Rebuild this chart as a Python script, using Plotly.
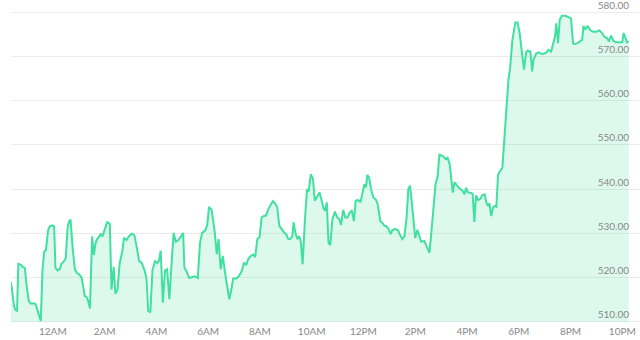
import plotly.graph_objects as go
import pandas as pd

# minutes relative to 12AM of the chart day (negative = previous evening)
minutes = [
    -97, -90, -87, -83, -80, -74, -70, -65, -61, -56, -51, -46, -40, -35, -32, -28,
    -24, -20, -16, -11, -7, -1, 3, 6, 11, 16, 20, 26, 30, 34, 37, 41, 46, 51, 56, 61,
    67, 70, 74, 78, 82, 86, 91, 95, 99, 103, 107, 111, 115, 121, 126, 132, 136, 141,
    145, 150, 155, 161, 165, 171, 176, 183, 189, 195, 200, 206, 212, 217, 221, 226,
    231, 237, 242, 246, 250, 255, 260, 265, 270, 275, 280, 285, 291, 297, 302, 305,
    310, 316, 323, 329, 336, 341, 346, 353, 358, 362, 368, 375, 380, 384, 389, 394,
    399, 404, 409, 414, 418, 425, 431, 438, 443, 448, 453, 459, 465, 469, 474, 479,
    484, 490, 494, 500, 505, 510, 515, 520, 525, 531, 536, 541, 545, 550, 555, 558,
    562, 567, 571, 575, 579, 584, 589, 593, 598, 603, 607, 613, 618, 623, 628, 631,
    635, 639, 643, 648, 654, 659, 664, 668, 673, 678, 683, 688, 693, 698, 702, 708,
    713, 718, 722, 726, 729, 733, 738, 743, 749, 753, 759, 764, 769, 773, 778, 783,
    787, 793, 800, 805, 810, 815, 820, 824, 828, 832, 836, 840, 845, 849, 854, 861,
    865, 870, 873, 878, 882, 887, 892, 896, 901, 906, 910, 915, 920, 924, 927, 931,
    937, 941, 946, 951, 954, 958, 962, 968, 973, 977, 981, 986, 991, 995, 1001, 1005,
    1009, 1012, 1016, 1020, 1024, 1028, 1032, 1037, 1042, 1046, 1051, 1056, 1060, 1065,
    1072, 1077, 1082, 1087, 1092, 1097, 1100, 1107, 1111, 1114, 1120, 1126, 1132, 1138,
    1144, 1149, 1155, 1159, 1164, 1167, 1171, 1175, 1180, 1188, 1196, 1201, 1206, 1211,
    1219, 1227, 1230, 1234, 1240, 1246, 1252, 1260, 1267, 1273, 1278, 1285, 1289, 1294,
    1299, 1304, 1312, 1320, 1323, 1327, 1331, 1335,
]

prices = [
    519.0, 513.6, 512.7, 512.5, 523.1, 522.9, 522.4, 522.2, 518.4, 514.7, 514.1, 514.2,
    514.0, 512.5, 511.4, 510.2, 521.8, 525.9, 526.2, 530.7, 531.6, 531.8, 531.6, 522.2,
    521.6, 521.9, 523.1, 523.7, 524.4, 531.1, 532.6, 533.1, 526.6, 521.9, 521.0, 520.7,
    519.9, 518.1, 515.8, 515.7, 514.7, 513.0, 529.3, 525.1, 527.8, 528.7, 529.4, 529.8,
    529.3, 531.0, 532.5, 532.2, 517.3, 522.4, 516.3, 517.3, 523.3, 525.9, 529.0, 528.5,
    529.3, 529.9, 529.6, 526.6, 523.7, 523.3, 521.8, 519.9, 512.5, 512.1, 521.8, 523.7,
    523.3, 523.8, 526.1, 514.3, 521.6, 521.9, 515.1, 522.9, 530.1, 528.1, 528.5, 529.3,
    530.1, 522.2, 521.4, 519.9, 520.1, 520.3, 519.9, 527.8, 530.1, 530.6, 531.9, 536.0,
    535.3, 530.5, 525.3, 528.7, 521.9, 524.9, 521.2, 518.1, 515.1, 517.4, 519.8, 519.8,
    520.3, 521.5, 523.4, 522.8, 524.2, 524.9, 525.2, 524.6, 528.7, 529.1, 533.6, 534.0,
    534.0, 535.6, 536.6, 537.3, 536.8, 535.9, 531.7, 530.7, 530.2, 529.8, 528.8, 528.7,
    529.3, 532.5, 530.2, 528.7, 529.4, 527.9, 523.0, 532.5, 539.8, 539.6, 543.4, 542.3,
    537.4, 538.3, 539.3, 537.4, 535.5, 535.1, 537.0, 527.9, 527.3, 533.2, 534.9, 533.6,
    533.2, 531.9, 535.3, 533.6, 533.6, 534.7, 535.1, 532.8, 537.4, 537.5, 537.0, 539.2,
    541.1, 540.4, 543.2, 542.6, 539.8, 538.1, 537.6, 536.6, 532.8, 532.3, 531.7, 531.6,
    531.0, 529.8, 530.7, 531.0, 530.7, 529.6, 528.7, 529.3, 533.6, 540.0, 540.8, 537.0,
    533.2, 528.9, 530.8, 529.8, 528.1, 528.3, 527.5, 526.5, 525.6, 530.9, 536.2, 541.1,
    542.9, 547.8, 547.6, 547.3, 546.8, 547.1, 545.6, 542.2, 539.2, 541.6, 540.8, 540.3,
    539.9, 539.5, 538.8, 540.3, 539.3, 539.2, 539.0, 532.6, 538.6, 537.5, 537.8, 538.6,
    538.8, 536.9, 536.2, 536.8, 533.9, 535.8, 536.2, 536.0, 543.3, 544.1, 544.8, 550.5,
    557.2, 564.7, 567.4, 573.5, 577.7, 577.7, 575.3, 571.5, 567.0, 570.9, 571.3, 571.1,
    566.6, 569.2, 570.6, 570.9, 570.6, 570.6, 570.9, 571.5, 571.1, 572.6, 574.5, 577.5,
    573.0, 578.3, 579.2, 579.2, 578.9, 578.6, 572.9, 572.8, 573.2, 573.8, 576.9, 576.2,
    576.8, 575.9, 575.6, 575.6, 575.9, 575.3, 574.5, 574.1, 573.4, 574.7, 573.6, 573.2,
    573.2, 573.2, 575.3, 574.1, 573.2, 573.4,
]

tick_minutes = [0, 120, 240, 360, 480, 600, 720, 840, 960, 1080, 1200, 1320]
tick_labels = ["12AM", "2AM", "4AM", "6AM", "8AM", "10AM",
               "12PM", "2PM", "4PM", "6PM", "8PM", "10PM"]
y_ticks = [510, 520, 530, 540, 550, 560, 570, 580]
baseline_value = 510

base = pd.Timestamp("2024-01-02 00:00")
times = [base + pd.Timedelta(minutes=m) for m in minutes]
tick_times = [base + pd.Timedelta(minutes=m) for m in tick_minutes]

fig = go.Figure()
# invisible baseline so the area fill stops at the lowest grid line
fig.add_trace(go.Scatter(
    x=times, y=[baseline_value] * len(times), mode="lines",
    line=dict(width=0, color="rgba(0,0,0,0)"), hoverinfo="skip",
))
fig.add_trace(go.Scatter(
    x=times, y=prices, mode="lines",
    line=dict(color="#40e0a0", width=2),
    fill="tonexty", fillcolor="rgba(64,224,160,0.18)",
    hoverinfo="skip",
))

fig.update_layout(
    width=640, height=340,
    margin=dict(l=11, r=0, t=10, b=16),
    paper_bgcolor="white", plot_bgcolor="white",
    showlegend=False,
    font=dict(family="Lato, sans-serif", size=10, color="#888888"),
    xaxis=dict(
        range=[base + pd.Timedelta(minutes=-97), base + pd.Timedelta(minutes=1361)],
        tickvals=tick_times, ticktext=tick_labels,
        showgrid=False, showline=False, zeroline=False, ticks="",
        tickfont=dict(size=10, color="#888888"),
        ticklabeloverflow="allow",
        fixedrange=True,
    ),
    yaxis=dict(
        range=[509.5, 580.5], side="right",
        tickvals=y_ticks, ticktext=[f"{v:.2f}" for v in y_ticks],
        ticklabelposition="inside top", ticklabelstandoff=8,
        ticklabeloverflow="allow",
        showgrid=True, gridcolor="#ececec", gridwidth=1,
        zeroline=False, showline=False, ticks="",
        tickfont=dict(size=10, color="#888888"),
        fixedrange=True,
    ),
)

fig.write_html("out.html")
